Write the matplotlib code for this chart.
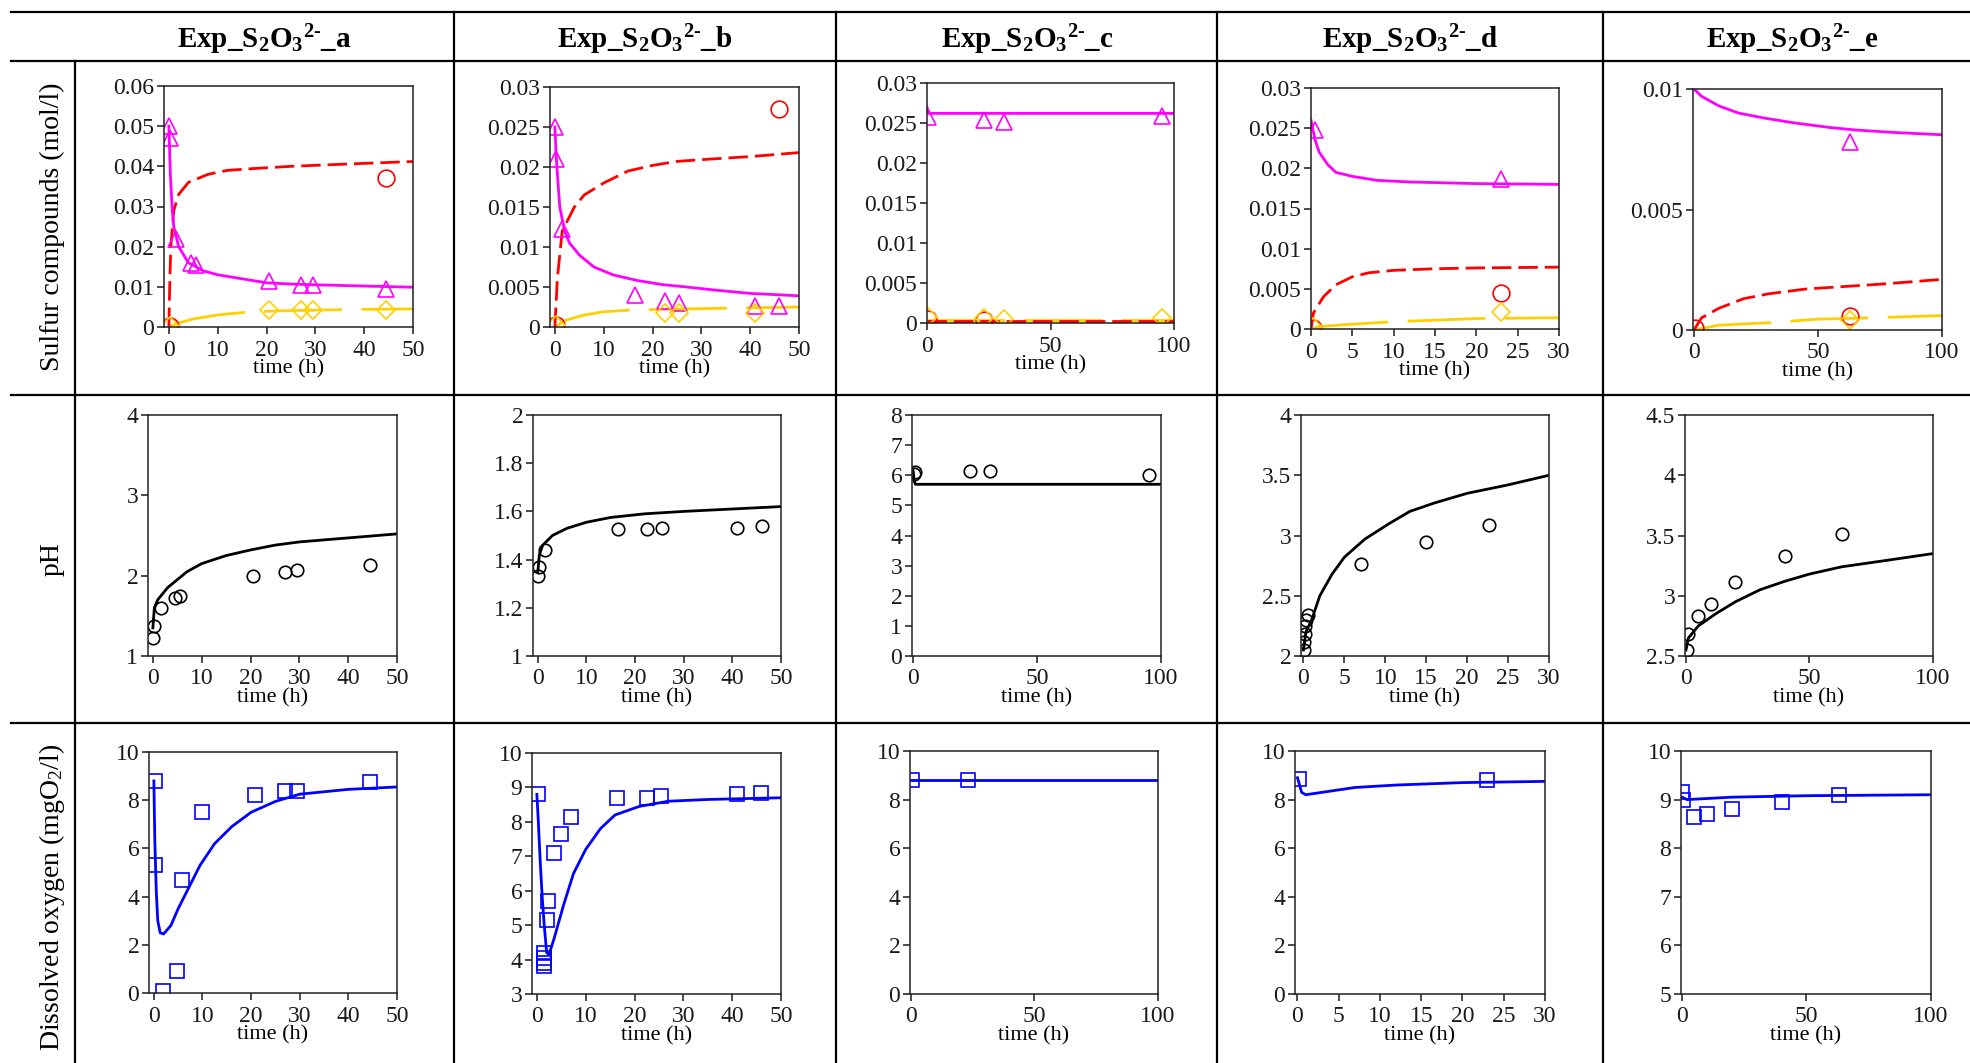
import numpy as np
import matplotlib.pyplot as plt
from matplotlib.lines import Line2D
from matplotlib.ticker import FuncFormatter

plt.rcParams['font.family'] = ['Liberation Serif', 'DejaVu Serif']
plt.rcParams['mathtext.fontset'] = 'custom'
plt.rcParams['mathtext.rm'] = 'Liberation Serif'
plt.rcParams['mathtext.bf'] = 'Liberation Serif:bold'
plt.rcParams['mathtext.it'] = 'Liberation Serif:italic'

# ---------------- data ----------------
experiments = ['a', 'b', 'c', 'd', 'e']
row_labels = ['Sulfur compounds (mol/l)', 'pH', r'Dissolved oxygen (mgO$_2$/l)']

# row 1 : sulfur compounds, model (thiosulfate / sulfate / other) and measurements
a_thio_t = [0, 0.3, 0.7, 1, 2, 4, 7, 10, 15, 20, 25, 30, 40, 50]
a_thio = [0.050, 0.038, 0.029, 0.025, 0.020, 0.016, 0.014, 0.013, 0.012, 0.011, 0.0107, 0.0105, 0.0102, 0.0099]
a_sulf_t = [0, 0.2, 0.4, 1, 2, 4, 8, 12, 18, 25, 35, 50]
a_sulf = [0, 0.012, 0.020, 0.029, 0.033, 0.036, 0.038, 0.039, 0.0395, 0.040, 0.0405, 0.0412]
a_oth_t = [0, 2, 5, 10, 16, 22, 30, 40, 50]
a_oth = [0, 0.001, 0.002, 0.003, 0.0037, 0.004, 0.0042, 0.0044, 0.0045]
a_tri_t = [0, 0.2, 1.5, 4.5, 5.5, 20.5, 27, 29.5, 44.5]
a_tri = [0.050, 0.047, 0.022, 0.016, 0.0155, 0.0115, 0.0105, 0.0105, 0.0095]
a_circ_t = [0.2, 44.5]
a_circ = [0.0002, 0.037]
a_dia_t = [0.2, 20.5, 27, 29.5, 44.5]
a_dia = [0.0003, 0.0043, 0.0043, 0.0043, 0.0043]

b_thio_t = [0, 0.3, 1, 2, 3, 5, 8, 12, 17, 22, 27, 33, 40, 50]
b_thio = [0.025, 0.021, 0.015, 0.012, 0.0105, 0.009, 0.0075, 0.0065, 0.0058, 0.0053, 0.005, 0.0046, 0.0042, 0.0039]
b_sulf_t = [0, 0.5, 1.5, 4, 6, 10, 15, 20, 25, 32, 40, 50]
b_sulf = [0, 0.006, 0.012, 0.015, 0.0165, 0.018, 0.0195, 0.0202, 0.0207, 0.021, 0.0213, 0.0218]
b_oth_t = [0, 2, 6, 10, 15, 22, 30, 40, 50]
b_oth = [0, 0.0008, 0.0015, 0.0019, 0.0021, 0.0022, 0.0023, 0.0024, 0.0025]
b_tri_t = [0, 0.2, 1.5, 16.5, 22.5, 25.5, 41, 46]
b_tri = [0.025, 0.021, 0.0122, 0.004, 0.0033, 0.003, 0.0026, 0.0026]
b_circ_t = [0.2, 46]
b_circ = [0.0003, 0.0273]
b_dia_t = [0.2, 22.5, 25.5, 41]
b_dia = [0.0002, 0.0017, 0.0017, 0.0017]

c_thio_t = [0, 0.5, 100]
c_thio = [0.027, 0.0262, 0.0262]
c_sulf_t = [0, 100]
c_sulf = [0.0003, 0.0003]
c_oth_t = [0, 100]
c_oth = [0.0004, 0.0004]
c_tri_t = [0.5, 23, 31, 95]
c_tri = [0.0258, 0.0254, 0.0251, 0.0259]
c_circ_t = [0.5, 23]
c_circ = [0.0005, 0.0004]
c_dia_t = [0.5, 23, 31, 95]
c_dia = [0.0008, 0.0006, 0.0005, 0.0006]

d_thio_t = [0, 0.5, 1, 2, 3, 5, 8, 12, 20, 30]
d_thio = [0.026, 0.0235, 0.022, 0.0205, 0.0195, 0.019, 0.0185, 0.0183, 0.0181, 0.018]
d_sulf_t = [0, 0.3, 1.5, 3, 5, 7, 10, 15, 20, 30]
d_sulf = [0, 0.002, 0.004, 0.0055, 0.0065, 0.007, 0.0073, 0.0075, 0.0076, 0.0077]
d_oth_t = [0, 1, 5, 10, 15, 20, 30]
d_oth = [0, 0.0003, 0.0006, 0.0009, 0.0011, 0.0013, 0.0014]
d_tri_t = [0.5, 23]
d_tri = [0.0248, 0.0187]
d_circ_t = [0.3, 23]
d_circ = [0.0001, 0.0045]
d_dia_t = [0.3, 23]
d_dia = [0.0002, 0.0021]

e_thio_t = [0, 3, 10, 18, 28, 40, 55, 65, 80, 100]
e_thio = [0.0100, 0.0097, 0.0093, 0.0090, 0.0088, 0.0086, 0.0084, 0.0083, 0.0082, 0.0081]
e_sulf_t = [0, 3, 10, 20, 30, 45, 60, 75, 100]
e_sulf = [0, 0.0005, 0.0009, 0.0013, 0.0015, 0.0017, 0.0018, 0.0019, 0.0021]
e_oth_t = [0, 10, 30, 50, 70, 100]
e_oth = [0, 0.0002, 0.0003, 0.00045, 0.0005, 0.0006]
e_tri_t = [63]
e_tri = [0.0078]
e_circ_t = [0.3, 63]
e_circ = [0.0001, 0.0006]
e_dia_t = [63]
e_dia = [0.0004]

# row 2 : pH, model and measurements
a_ph_t = [0, 0.3, 1, 3, 5, 7, 10, 15, 20, 25, 30, 40, 50]
a_ph = [1.35, 1.6, 1.7, 1.85, 1.95, 2.05, 2.15, 2.25, 2.32, 2.38, 2.42, 2.47, 2.52]
a_phm_t = [0, 0.2, 1.6, 4.5, 5.5, 20.5, 27, 29.5, 44.5]
a_phm = [1.23, 1.37, 1.6, 1.72, 1.75, 2.0, 2.05, 2.07, 2.13]

b_ph_t = [0, 0.3, 1, 3, 6, 10, 15, 22, 30, 40, 50]
b_ph = [1.35, 1.42, 1.46, 1.5, 1.53, 1.555, 1.575, 1.59, 1.6, 1.61, 1.62]
b_phm_t = [0, 0.2, 1.5, 16.5, 22.5, 25.5, 41, 46]
b_phm = [1.33, 1.37, 1.44, 1.525, 1.525, 1.53, 1.53, 1.54]

c_ph_t = [0, 0.5, 1, 100]
c_ph = [6.2, 5.8, 5.7, 5.7]
c_phm_t = [0.3, 0.8, 23, 31, 95]
c_phm = [6.05, 6.1, 6.15, 6.15, 6.0]

d_ph_t = [0, 0.3, 1, 2, 3.5, 5, 7.5, 10.5, 13, 16, 20, 25, 30]
d_ph = [2.05, 2.2, 2.3, 2.5, 2.68, 2.82, 2.97, 3.1, 3.2, 3.27, 3.35, 3.42, 3.5]
d_phm_t = [0.05, 0.1, 0.15, 0.2, 0.3, 0.5, 7, 15, 22.7]
d_phm = [2.05, 2.12, 2.18, 2.25, 2.3, 2.34, 2.76, 2.95, 3.09]

e_ph_t = [0, 1, 5, 12, 20, 30, 40, 50, 63, 80, 100]
e_ph = [2.55, 2.65, 2.75, 2.85, 2.95, 3.05, 3.12, 3.18, 3.24, 3.29, 3.35]
e_phm_t = [0.3, 0.8, 5, 10, 20, 40, 63]
e_phm = [2.55, 2.68, 2.83, 2.93, 3.11, 3.33, 3.51]

# row 3 : dissolved oxygen, model and measurements
a_do_t = [0, 0.2, 0.5, 0.8, 1.3, 2, 3.5, 5, 7, 9.5, 12.5, 16, 20, 25, 30, 40, 50]
a_do = [8.8, 6.3, 4.2, 3.0, 2.5, 2.45, 2.8, 3.5, 4.3, 5.3, 6.2, 6.9, 7.5, 7.95, 8.25, 8.45, 8.55]
a_dom_t = [0.3, 0.3, 1.8, 4.7, 5.8, 10, 20.7, 27, 29.5, 44.5]
a_dom = [8.8, 5.3, 0.1, 0.9, 4.7, 7.5, 8.2, 8.4, 8.4, 8.75]

b_do_t = [0, 0.3, 0.7, 1.1, 1.5, 2.0, 2.5, 3.5, 5.5, 7.5, 10, 13, 16, 21, 27, 35, 50]
b_do = [8.8, 8.0, 6.8, 5.8, 5.0, 4.2, 4.15, 4.6, 5.6, 6.5, 7.2, 7.8, 8.2, 8.45, 8.6, 8.65, 8.7]
b_dom_t = [0.3, 2.2, 2.1, 1.5, 1.5, 1.5, 1.5, 3.5, 5, 7, 16.5, 22.5, 25.5, 41, 46]
b_dom = [8.8, 5.7, 5.15, 4.2, 4.05, 3.9, 3.8, 7.1, 7.65, 8.15, 8.7, 8.7, 8.75, 8.8, 8.85]

c_do_t = [0, 100]
c_do = [8.8, 8.8]
c_dom_t = [0.5, 23]
c_dom = [8.8, 8.8]

d_do_t = [0, 0.5, 1, 3, 7, 12, 20, 30]
d_do = [8.9, 8.3, 8.2, 8.3, 8.5, 8.6, 8.7, 8.75]
d_dom_t = [0.2, 23]
d_dom = [8.85, 8.8]

e_do_t = [0, 2, 20, 50, 100]
e_do = [9.05, 9.0, 9.05, 9.08, 9.1]
e_dom_t = [0.2, 0.5, 5, 10, 20, 40, 63]
e_dom = [9.15, 9.0, 8.65, 8.7, 8.8, 8.95, 9.1]

# axis ranges and tick labels
x_ticks = [[0, 10, 20, 30, 40, 50], [0, 10, 20, 30, 40, 50], [0, 50, 100],
           [0, 5, 10, 15, 20, 25, 30], [0, 50, 100]]
sulf_yticks = [[0, 0.01, 0.02, 0.03, 0.04, 0.05, 0.06],
               [0, 0.005, 0.01, 0.015, 0.02, 0.025, 0.03],
               [0, 0.005, 0.01, 0.015, 0.02, 0.025, 0.03],
               [0, 0.005, 0.01, 0.015, 0.02, 0.025, 0.03],
               [0, 0.005, 0.01]]
ph_yticks = [[1, 2, 3, 4], [1, 1.2, 1.4, 1.6, 1.8, 2], [0, 1, 2, 3, 4, 5, 6, 7, 8],
             [2, 2.5, 3, 3.5, 4], [2.5, 3, 3.5, 4, 4.5]]
do_yticks = [[0, 2, 4, 6, 8, 10], [3, 4, 5, 6, 7, 8, 9, 10], [0, 2, 4, 6, 8, 10],
             [0, 2, 4, 6, 8, 10], [5, 6, 7, 8, 9, 10]]

sulfur = {
    'a': (a_thio_t, a_thio, a_sulf_t, a_sulf, a_oth_t, a_oth, a_tri_t, a_tri, a_circ_t, a_circ, a_dia_t, a_dia),
    'b': (b_thio_t, b_thio, b_sulf_t, b_sulf, b_oth_t, b_oth, b_tri_t, b_tri, b_circ_t, b_circ, b_dia_t, b_dia),
    'c': (c_thio_t, c_thio, c_sulf_t, c_sulf, c_oth_t, c_oth, c_tri_t, c_tri, c_circ_t, c_circ, c_dia_t, c_dia),
    'd': (d_thio_t, d_thio, d_sulf_t, d_sulf, d_oth_t, d_oth, d_tri_t, d_tri, d_circ_t, d_circ, d_dia_t, d_dia),
    'e': (e_thio_t, e_thio, e_sulf_t, e_sulf, e_oth_t, e_oth, e_tri_t, e_tri, e_circ_t, e_circ, e_dia_t, e_dia),
}
ph = {
    'a': (a_ph_t, a_ph, a_phm_t, a_phm), 'b': (b_ph_t, b_ph, b_phm_t, b_phm),
    'c': (c_ph_t, c_ph, c_phm_t, c_phm), 'd': (d_ph_t, d_ph, d_phm_t, d_phm),
    'e': (e_ph_t, e_ph, e_phm_t, e_phm),
}
oxygen = {
    'a': (a_do_t, a_do, a_dom_t, a_dom), 'b': (b_do_t, b_do, b_dom_t, b_dom),
    'c': (c_do_t, c_do, c_dom_t, c_dom), 'd': (d_do_t, d_do, d_dom_t, d_dom),
    'e': (e_do_t, e_do, e_dom_t, e_dom),
}

# ---------------- layout (pixels of the 1970x1063 image) ----------------
W, H = 1970, 1063
fig = plt.figure(figsize=(W / 100, H / 100), dpi=100)


def box(l, r, t, b):
    return [l / W, 1 - b / H, (r - l) / W, (b - t) / H]


boxes = [
    [(164, 413, 86, 327), (550, 799, 87, 327), (927, 1174, 83, 323), (1311, 1559, 88, 329), (1693, 1942, 89, 330)],
    [(148, 397, 415, 656), (533, 781, 415, 656), (912, 1161, 415, 656), (1301, 1549, 415, 656), (1685, 1933, 415, 656)],
    [(149, 397, 752, 993), (532, 781, 753, 994), (910, 1158, 751, 994), (1295, 1545, 751, 994), (1681, 1931, 751, 994)],
]
x_lims = [(-1, 50), (-1, 50), (-0.4, 100), (-0.3, 30), (-0.4, 100)]
fmt = FuncFormatter(lambda v, p: '%g' % round(v, 6))


def style(ax, xl, xt, yt):
    ax.set_xlim(xl)
    ax.set_ylim(yt[0], yt[-1])
    ax.set_xticks(xt)
    ax.set_yticks(yt)
    ax.xaxis.set_major_formatter(fmt)
    ax.yaxis.set_major_formatter(fmt)
    ax.tick_params(direction='out', length=5, width=1.1, labelsize=17,
                   colors='#1a1a1a', pad=2)
    ax.tick_params(axis='x', pad=4)
    for s in ax.spines.values():
        s.set_linewidth(1.1)
        s.set_color('#222222')
    ax.set_xlabel('time (h)', fontsize=16, labelpad=-1)


mk = dict(linestyle='none', markerfacecolor='none', markeredgewidth=1.2)

for j, key in enumerate(experiments):
    # sulfur compounds
    ax = fig.add_axes(box(*boxes[0][j]))
    (tt, ty, st, sy, ot, oy, trt, tr, ct, cy, dt, dy) = sulfur[key]
    ax.plot(ot, oy, color='#FFD000', lw=2, dashes=(28, 7))
    ax.plot(st, sy, color='#FF0000', lw=2, dashes=(7, 2.5))
    ax.plot(tt, ty, color='#FF00FF', lw=2)
    ax.plot(trt, tr, marker='^', markersize=11, markeredgecolor='#FF00FF', **mk)
    ax.plot(ct, cy, marker='o', markersize=12, markeredgecolor='#FF0000', **mk)
    ax.plot(dt, dy, marker='D', markersize=9, markeredgecolor='#FFD000', **mk)
    style(ax, (0, x_lims[j][1]) if j in (2, 3) else x_lims[j], x_ticks[j], sulf_yticks[j])

    # pH
    ax = fig.add_axes(box(*boxes[1][j]))
    t, y, mt, my = ph[key]
    ax.plot(t, y, color='black', lw=2)
    ax.plot(mt, my, marker='o', markersize=9, markeredgecolor='black', **mk)
    style(ax, x_lims[j], x_ticks[j], ph_yticks[j])

    # dissolved oxygen
    ax = fig.add_axes(box(*boxes[2][j]))
    t, y, mt, my = oxygen[key]
    ax.plot(t, y, color='#0000FF', lw=2)
    ax.plot(mt, my, marker='s', markersize=10, markeredgecolor='#0000FF', **mk)
    style(ax, x_lims[j], x_ticks[j], do_yticks[j])

# ---------------- table frame ----------------
def hline(y, x0=11, x1=W):
    fig.add_artist(Line2D([x0 / W, x1 / W], [1 - y / H, 1 - y / H], color='black', lw=1.6))


def vline(x, y0, y1=H):
    fig.add_artist(Line2D([x / W, x / W], [1 - y0 / H, 1 - y1 / H], color='black', lw=1.6))


for y in (12, 61, 395, 723):
    hline(y)
vline(75, 61)
for x in (454, 836, 1217, 1603):
    vline(x, 12)

col_centers = [264, 645, 1027, 1410, 1792]
for cx, key in zip(col_centers, experiments):
    fig.text(cx / W, 1 - 48 / H,
             'Exp_S$_\\mathbf{2}$O$_\\mathbf{3}$$^\\mathbf{2\u2010}$_' + key,
             ha='center', va='baseline', fontsize=21, fontweight='bold')

for lab, cy in zip(row_labels, (227, 559, 897)):
    fig.text(52 / W, 1 - cy / H, lab, rotation=90, ha='center', va='center', fontsize=20)

fig.savefig('out.png', dpi=100)
